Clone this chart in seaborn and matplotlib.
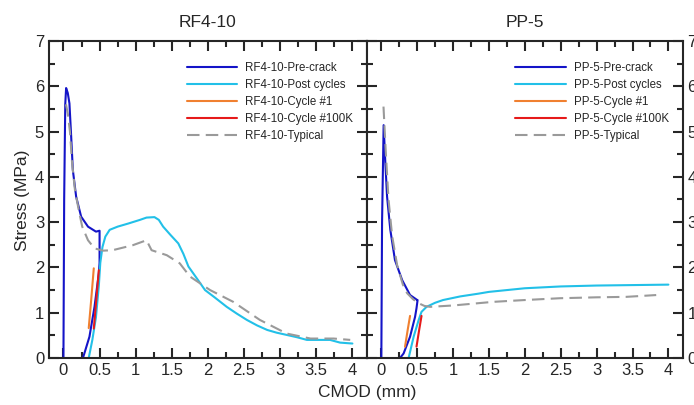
import numpy as np
import pandas as pd
import matplotlib
matplotlib.use("Agg")
import matplotlib.pyplot as plt
from matplotlib.ticker import MultipleLocator
import seaborn as sns

# RF4-10 curves (CMOD mm, stress MPa)
rf_pre_x = [0, 0.01, 0.025, 0.037, 0.06, 0.083, 0.107, 0.13, 0.176, 0.245, 0.34, 0.45, 0.50, 0.50, 0.49, 0.43, 0.36, 0.27]
rf_pre_y = [0, 3.5, 5.6, 5.96, 5.85, 5.62, 4.89, 4.15, 3.56, 3.12, 2.9, 2.79, 2.81, 2.1, 1.87, 1.13, 0.47, 0]
rf_post_x = [0.35, 0.40, 0.45, 0.49, 0.51, 0.54, 0.58, 0.64, 0.75, 0.90, 1.06, 1.15, 1.26, 1.32, 1.38, 1.48, 1.59, 1.66, 1.73,
             1.85, 1.96, 2.10, 2.26, 2.40, 2.54, 2.68, 2.82, 2.95, 3.09, 3.23, 3.37, 3.50, 3.69, 3.83, 4.00]
rf_post_y = [0, 0.4, 0.9, 1.6, 2.1, 2.45, 2.68, 2.83, 2.9, 2.97, 3.05, 3.1, 3.11, 3.05, 2.9, 2.72, 2.53, 2.3, 2.02,
             1.75, 1.5, 1.33, 1.13, 0.98, 0.84, 0.72, 0.62, 0.56, 0.51, 0.46, 0.40, 0.40, 0.40, 0.34, 0.32]
rf_c1_x = [0.35, 0.385, 0.42]
rf_c1_y = [0.66, 1.3, 1.98]
rf_c100k_x = [0.42, 0.455, 0.49]
rf_c100k_y = [0.65, 1.28, 1.94]
rf_typ_x = [0.035, 0.06, 0.09, 0.12, 0.16, 0.22, 0.26, 0.34, 0.43, 0.55, 0.68, 0.96, 1.15, 1.22, 1.43, 1.61, 1.75,
            2.03, 2.35, 2.72, 3.09, 3.42, 3.74, 3.97]
rf_typ_y = [5.6, 5.4, 5.0, 4.3, 3.7, 3.2, 2.9, 2.6, 2.42, 2.37, 2.38, 2.49, 2.6, 2.38, 2.27, 2.09, 1.8,
            1.5, 1.24, 0.84, 0.54, 0.43, 0.43, 0.40]

# PP-5 curves
pp_pre_x = [0, 0.01, 0.032, 0.056, 0.08, 0.125, 0.19, 0.29, 0.40, 0.50, 0.505, 0.49, 0.47, 0.40, 0.31, 0.26]
pp_pre_y = [0, 3.0, 5.14, 4.3, 3.56, 2.83, 2.16, 1.72, 1.39, 1.28, 1.28, 1.1, 0.91, 0.47, 0.1, 0]
pp_post_x = [0.38, 0.45, 0.52, 0.56, 0.63, 0.75, 0.86, 1.10, 1.35, 1.50, 2.00, 2.50, 3.00, 3.50, 4.00]
pp_post_y = [0, 0.47, 0.84, 1.02, 1.13, 1.22, 1.28, 1.36, 1.42, 1.46, 1.54, 1.58, 1.60, 1.61, 1.62]
pp_c1_x = [0.33, 0.365, 0.40]
pp_c1_y = [0.25, 0.6, 0.93]
pp_c100k_x = [0.49, 0.525, 0.56]
pp_c100k_y = [0.25, 0.6, 0.93]
pp_typ_x = [0.03, 0.06, 0.10, 0.15, 0.22, 0.30, 0.36, 0.44, 0.52, 0.60, 0.68, 1.00, 1.56, 2.00, 2.49, 3.00, 3.41, 3.83]
pp_typ_y = [5.55, 4.6, 3.5, 2.7, 2.05, 1.62, 1.43, 1.3, 1.21, 1.15, 1.13, 1.16, 1.24, 1.28, 1.32, 1.34, 1.35, 1.39]

sns.set_style("ticks")
plt.rcParams['font.family'] = ['Liberation Sans', 'DejaVu Sans']

fig = plt.figure(figsize=(6.94, 4.05), dpi=100)
ax1 = fig.add_axes([0.0706, 0.116, 0.458, 0.783])
ax2 = fig.add_axes([0.5288, 0.116, 0.455, 0.783])

colors = {'pre': '#1414c8', 'post': '#22c0e8', 'c1': '#f08030', 'c100k': '#e61a1a', 'typ': '#9a9a9a'}


def draw_panel(ax, name, series):
    for key, xs, ys, lab in series:
        df = pd.DataFrame({'x': xs, 'y': ys})
        ls = (0, (6, 3)) if key == 'typ' else '-'
        sns.lineplot(data=df, x='x', y='y', ax=ax, sort=False, estimator=None,
                     color=colors[key], lw=1.5, linestyle=ls, label=name + '-' + lab)
    ax.set_xlim(-0.2, 4.2)
    ax.set_ylim(0, 7)
    ax.xaxis.set_major_locator(MultipleLocator(0.5))
    ax.xaxis.set_minor_locator(MultipleLocator(0.25))
    ax.yaxis.set_major_locator(MultipleLocator(1))
    ax.yaxis.set_minor_locator(MultipleLocator(0.5))
    ax.set_xticks(np.arange(0, 4.01, 0.5))
    ax.set_xticklabels(['0', '0.5', '1', '1.5', '2', '2.5', '3', '3.5', '4'])
    ax.tick_params(which='both', direction='in', top=True, right=True, labelsize=12, width=1.5)
    ax.tick_params(which='major', length=7.5)
    ax.tick_params(which='minor', length=4)
    for s in ax.spines.values():
        s.set_linewidth(1.5)
    ax.set_xlabel('')
    ax.set_ylabel('')
    ax.set_title(name, fontsize=12.5, pad=10)
    ax.legend(loc='upper right', frameon=False, fontsize=8.3, handlelength=4.4,
              labelspacing=0.42, handletextpad=0.7, bbox_to_anchor=(0.99, 0.965))


draw_panel(ax1, 'RF4-10', [
    ('pre', rf_pre_x, rf_pre_y, 'Pre-crack'),
    ('post', rf_post_x, rf_post_y, 'Post cycles'),
    ('c1', rf_c1_x, rf_c1_y, 'Cycle #1'),
    ('c100k', rf_c100k_x, rf_c100k_y, 'Cycle #100K'),
    ('typ', rf_typ_x, rf_typ_y, 'Typical'),
])
draw_panel(ax2, 'PP-5', [
    ('pre', pp_pre_x, pp_pre_y, 'Pre-crack'),
    ('post', pp_post_x, pp_post_y, 'Post cycles'),
    ('c1', pp_c1_x, pp_c1_y, 'Cycle #1'),
    ('c100k', pp_c100k_x, pp_c100k_y, 'Cycle #100K'),
    ('typ', pp_typ_x, pp_typ_y, 'Typical'),
])
ax2.tick_params(labelleft=False, labelright=True)

fig.text(0.529, 0.032, 'CMOD (mm)', ha='center', va='center', fontsize=12.5)
fig.text(0.032, 0.505, 'Stress (MPa)', ha='center', va='center', rotation=90, fontsize=12.5)

fig.savefig('out.png', dpi=100)
